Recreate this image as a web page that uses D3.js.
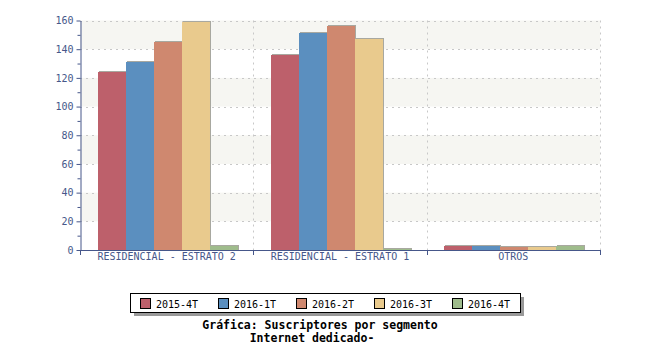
<!DOCTYPE html>
<html><head><meta charset="utf-8">
<script src="https://cdn.jsdelivr.net/npm/d3@7"></script>
<style>body{margin:0;background:#fff}svg{display:block}</style>
</head><body>
<svg id="c" width="650" height="350"></svg>
<script>
const categories = ["RESIDENCIAL - ESTRATO 2", "RESIDENCIAL - ESTRATO 1", "OTROS"];
const seriesNames = ["2015-4T", "2016-1T", "2016-2T", "2016-3T", "2016-4T"];
const s2015_4T = [124, 136, 3];
const s2016_1T = [131, 151, 3];
const s2016_2T = [145, 156, 2];
const s2016_3T = [159, 147, 2];
const s2016_4T = [3, 1, 3];
const seriesValues = [s2015_4T, s2016_1T, s2016_2T, s2016_3T, s2016_4T];
const colors = ["#bd606b", "#5b8fbf", "#cf886f", "#e9ca8d", "#9fbc8c"];
const yTicks = [0, 20, 40, 60, 80, 100, 120, 140, 160];
const titleLines = ["Gráfica: Suscriptores por segmento", "Internet dedicado-"];

const svg = d3.select("#c");
const L = 80, R = 600, T = 20.5, B = 250;
const axisColor = "#46578a";
const font = "'DejaVu Sans Mono', monospace";

const x = d3.scaleBand().domain(categories).range([L, R]).padding(0);
const xs = d3.scaleBand().domain(seriesNames).range([1, x.bandwidth() + 1]).paddingInner(0).paddingOuter(0.6);
const y = d3.scaleLinear().domain([0, 160]).range([B, T]);

// background bands
const bands = [[140,160],[100,120],[60,80],[20,40]];
svg.selectAll("rect.band").data(bands).enter().append("rect")
  .attr("x", L).attr("width", R - L)
  .attr("y", d => y(d[1])).attr("height", d => y(d[0]) - y(d[1]))
  .attr("fill", "#f6f6f2");

// grid
svg.selectAll("line.hg").data(yTicks.filter(v => v > 0)).enter().append("line")
  .attr("x1", L).attr("x2", R).attr("y1", d => Math.round(y(d)) + 0.5).attr("y2", d => Math.round(y(d)) + 0.5)
  .attr("stroke", "#c8c8c8").attr("stroke-dasharray", "2,4");
const bounds = categories.map(c => x(c) + x.bandwidth());
svg.selectAll("line.vg").data(bounds).enter().append("line")
  .attr("x1", d => Math.round(d) + 0.5).attr("x2", d => Math.round(d) + 0.5).attr("y1", T).attr("y2", B)
  .attr("stroke", "#c8c8c8").attr("stroke-dasharray", "2,4");

// bars
const g = svg.append("g");
categories.forEach((c, ci) => {
  seriesNames.forEach((s, si) => {
    const v = seriesValues[si][ci];
    const bx = Math.round(x(c) + xs(s));
    const w = Math.round(xs.bandwidth());
    const by = Math.round(y(v));
    g.append("rect").attr("x", bx + 1).attr("y", by - 1).attr("width", w).attr("height", B - by + 1)
      .attr("fill", "#a8a8a0");
    g.append("rect").attr("x", bx).attr("y", by).attr("width", w).attr("height", B - by)
      .attr("fill", colors[si]);
  });
});

// y axis
const yAxis = svg.append("g").attr("transform", `translate(${L + 0.5},0)`)
  .call(d3.axisLeft(y).tickValues(yTicks).tickSize(4).tickPadding(3).tickSizeOuter(0));
svg.append("g").attr("transform", `translate(${L + 0.5},0)`)
  .call(d3.axisLeft(y).tickValues(d3.range(10, 160, 20)).tickSize(3).tickFormat("").tickSizeOuter(0))
  .select(".domain").remove();
svg.selectAll(".tick line").attr("stroke", axisColor);
yAxis.select(".domain").attr("stroke", axisColor);
yAxis.selectAll("text").attr("fill", axisColor).style("font-family", font).style("font-size", "10px");

// x axis
svg.append("line").attr("x1", L).attr("x2", R + 1).attr("y1", B + 0.5).attr("y2", B + 0.5).attr("stroke", axisColor);
svg.selectAll("line.xt").data([L].concat(bounds)).enter().append("line")
  .attr("x1", d => Math.round(d) + 0.5).attr("x2", d => Math.round(d) + 0.5)
  .attr("y1", B).attr("y2", B + 5).attr("stroke", axisColor);
svg.selectAll("text.xl").data(categories).enter().append("text")
  .attr("x", d => x(d) + x.bandwidth() / 2).attr("y", 260)
  .attr("text-anchor", "middle").attr("fill", axisColor)
  .style("font-family", font).style("font-size", "10px").text(d => d);

// legend
const lg = svg.append("g");
lg.append("rect").attr("x", 134).attr("y", 297).attr("width", 390).attr("height", 19).attr("fill", "#999");
lg.append("rect").attr("x", 130.5).attr("y", 293.5).attr("width", 390).attr("height", 19)
  .attr("fill", "#fff").attr("stroke", "#000");
seriesNames.forEach((s, i) => {
  const lx = 140 + i * 78;
  lg.append("rect").attr("x", lx + 0.5).attr("y", 298.5).attr("width", 10).attr("height", 10)
    .attr("fill", colors[i]).attr("stroke", "#000");
  lg.append("text").attr("x", lx + 16).attr("y", 307.5).attr("fill", "#000")
    .style("font-family", font).style("font-size", "10px").text(s);
});

// title
titleLines.forEach((t, i) => {
  svg.append("text").attr("x", i === 0 ? 320 : 312).attr("y", 329 + i * 13).attr("text-anchor", "middle")
    .attr("fill", "#000").style("font-family", font).style("font-size", "11.5px").style("font-weight", "bold").text(t);
});
</script>
</body></html>
